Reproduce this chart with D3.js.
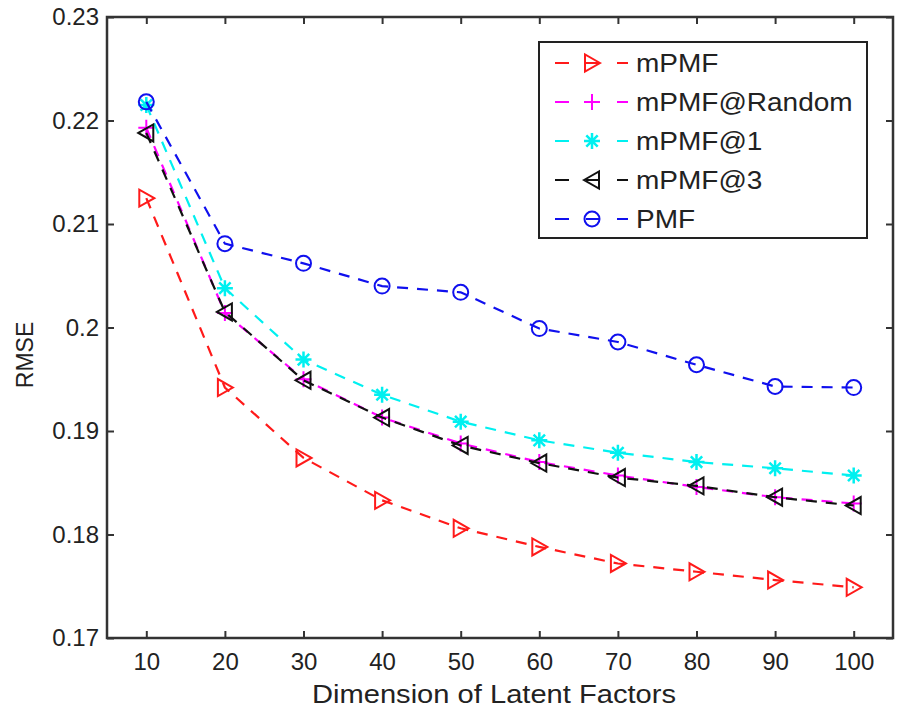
<!DOCTYPE html>
<html>
<head>
<meta charset="utf-8">
<script src="https://cdn.jsdelivr.net/npm/d3@7"></script>
<style>
  body { margin: 0; background: #fff; }
  text { font-family: "Liberation Sans", Arial, sans-serif; fill: #222; }
</style>
</head>
<body>
<div class="graph"></div>
<script>
// values
var dims = [10, 20, 30, 40, 50, 60, 70, 80, 90, 100];
var mPMF       = [0.2125, 0.1942, 0.1874, 0.1833, 0.1806, 0.1788, 0.1772, 0.1764, 0.1756, 0.1749];
var mPMFRandom = [0.2193, 0.2014, 0.1950, 0.1913, 0.1888, 0.1870, 0.1857, 0.1846, 0.1836, 0.1830];
var mPMF1      = [0.2215, 0.2038, 0.1969, 0.1935, 0.1909, 0.1891, 0.1879, 0.1870, 0.1864, 0.1857];
var mPMF3      = [0.2188, 0.2015, 0.1949, 0.1913, 0.1886, 0.1869, 0.1855, 0.1847, 0.1836, 0.1828];
var PMF        = [0.2218, 0.2081, 0.2062, 0.2040, 0.2034, 0.1999, 0.1986, 0.1964, 0.1943, 0.1942];

var seriesNames = ["mPMF", "mPMF@Random", "mPMF@1", "mPMF@3", "PMF"];
var seriesValues = [mPMF, mPMFRandom, mPMF1, mPMF3, PMF];
var seriesColors = ["#ff1a1a", "#ff00ff", "#00f0f0", "#111111", "#1010ee"];
var seriesMarkers = ["tri-right", "plus", "star", "tri-left", "circle"];

var yTicks = [0.17, 0.18, 0.19, 0.2, 0.21, 0.22, 0.23];
var yTickLabels = ["0.17", "0.18", "0.19", "0.2", "0.21", "0.22", "0.23"];

var width = 899, height = 711;
var padL = 107, padR = 893, padT = 17, padB = 638;

var svg = d3.select(".graph").append("svg")
  .attr("width", width)
  .attr("height", height);

var x = d3.scaleLinear().domain([5, 105]).range([padL, padR]);
var y = d3.scaleLinear().domain([0.17, 0.23]).range([padB, padT]);

//axes, ticks point inward on all four sides
var axisColor = "#333";
function styleAxis(g) {
  g.select(".domain").remove();
  g.selectAll(".tick line").attr("stroke", axisColor).attr("stroke-width", 2);
  g.selectAll(".tick text").attr("font-size", 24).attr("fill", "#222")
    .attr("font-family", "Liberation Sans, Arial, sans-serif");
}

svg.append("g")
  .attr("transform", "translate(0," + padB + ")")
  .call(d3.axisBottom(x).tickValues(dims).tickSizeInner(-7).tickSizeOuter(0).tickPadding(15))
  .call(styleAxis);
svg.append("g")
  .attr("transform", "translate(0," + padT + ")")
  .call(d3.axisTop(x).tickValues(dims).tickSizeInner(-7).tickSizeOuter(0).tickFormat(""))
  .call(styleAxis);
svg.append("g")
  .attr("transform", "translate(" + padL + ",0)")
  .call(d3.axisLeft(y).tickValues(yTicks).tickSizeInner(-7).tickSizeOuter(0).tickPadding(8)
    .tickFormat((d, i) => yTickLabels[i]))
  .call(styleAxis);
svg.append("g")
  .attr("transform", "translate(" + padR + ",0)")
  .call(d3.axisRight(y).tickValues(yTicks).tickSizeInner(-7).tickSizeOuter(0).tickFormat(""))
  .call(styleAxis);

svg.append("rect")
  .attr("x", padL).attr("y", padT)
  .attr("width", padR - padL).attr("height", padB - padT)
  .attr("fill", "none").attr("stroke", axisColor).attr("stroke-width", 2.5);

//axis labels
svg.append("text")
  .attr("transform", "translate(" + ((padL + padR) / 2 - 6) + ",703) scale(1.12,1)")
  .attr("text-anchor", "middle")
  .attr("font-size", 26)
  .text("Dimension of Latent Factors");
svg.append("text")
  .attr("transform", "translate(33,355) rotate(-90)")
  .attr("text-anchor", "middle")
  .attr("font-size", 23)
  .text("RMSE");

//marker drawing
function drawMarker(g, type, color) {
  var sw = 2;
  if (type == "circle") {
    g.append("circle").attr("r", 7.5).attr("fill", "none").attr("stroke", color).attr("stroke-width", sw);
  } else if (type == "tri-right") {
    g.append("path").attr("d", "M8,0L-7,-8.5L-7,8.5Z").attr("fill", "none").attr("stroke", color).attr("stroke-width", sw);
  } else if (type == "tri-left") {
    g.append("path").attr("d", "M-8,0L7,-8.5L7,8.5Z").attr("fill", "none").attr("stroke", color).attr("stroke-width", sw);
  } else if (type == "plus") {
    g.append("path").attr("d", "M-8,0H8M0,-8V8").attr("stroke", color).attr("stroke-width", sw);
  } else if (type == "star") {
    g.append("path").attr("d", "M-8,0H8M0,-8V8M-5.7,-5.7L5.7,5.7M-5.7,5.7L5.7,-5.7")
      .attr("stroke", color).attr("stroke-width", sw + 0.5);
  }
}

var line = d3.line()
  .x((d, i) => x(dims[i]))
  .y(d => y(d));

var plot = svg.append("g");
seriesValues.forEach(function (vals, s) {
  var g = plot.append("g");
  g.append("path")
    .attr("d", line(vals))
    .attr("fill", "none")
    .attr("stroke", seriesColors[s])
    .attr("stroke-width", 2.2)
    .attr("stroke-dasharray", "11,9");
  g.selectAll("g.pt")
    .data(vals)
    .enter()
    .append("g")
    .attr("class", "pt")
    .attr("transform", (d, i) => "translate(" + x(dims[i]) + "," + y(d) + ")")
    .each(function () { drawMarker(d3.select(this), seriesMarkers[s], seriesColors[s]); });
});

//Legend
var legend = svg.append("g");
legend.append("rect")
  .attr("x", 539).attr("y", 42)
  .attr("width", 328).attr("height", 196)
  .attr("fill", "#fff").attr("stroke", "#222").attr("stroke-width", 2);

var rowY = d3.scaleLinear().domain([0, 4]).range([63, 219]);
seriesNames.forEach(function (name, s) {
  var ry = rowY(s);
  legend.append("line")
    .attr("x1", 555).attr("x2", 628)
    .attr("y1", ry).attr("y2", ry)
    .attr("stroke", seriesColors[s])
    .attr("stroke-width", 2.2)
    .attr("stroke-dasharray", "14,17");
  var m = legend.append("g").attr("transform", "translate(592," + ry + ")");
  drawMarker(m, seriesMarkers[s], seriesColors[s]);
  legend.append("text")
    .attr("transform", "translate(636," + (ry + 9) + ") scale(1.12,1)")
    .attr("font-size", 25)
    .text(name);
});
</script>
</body>
</html>
